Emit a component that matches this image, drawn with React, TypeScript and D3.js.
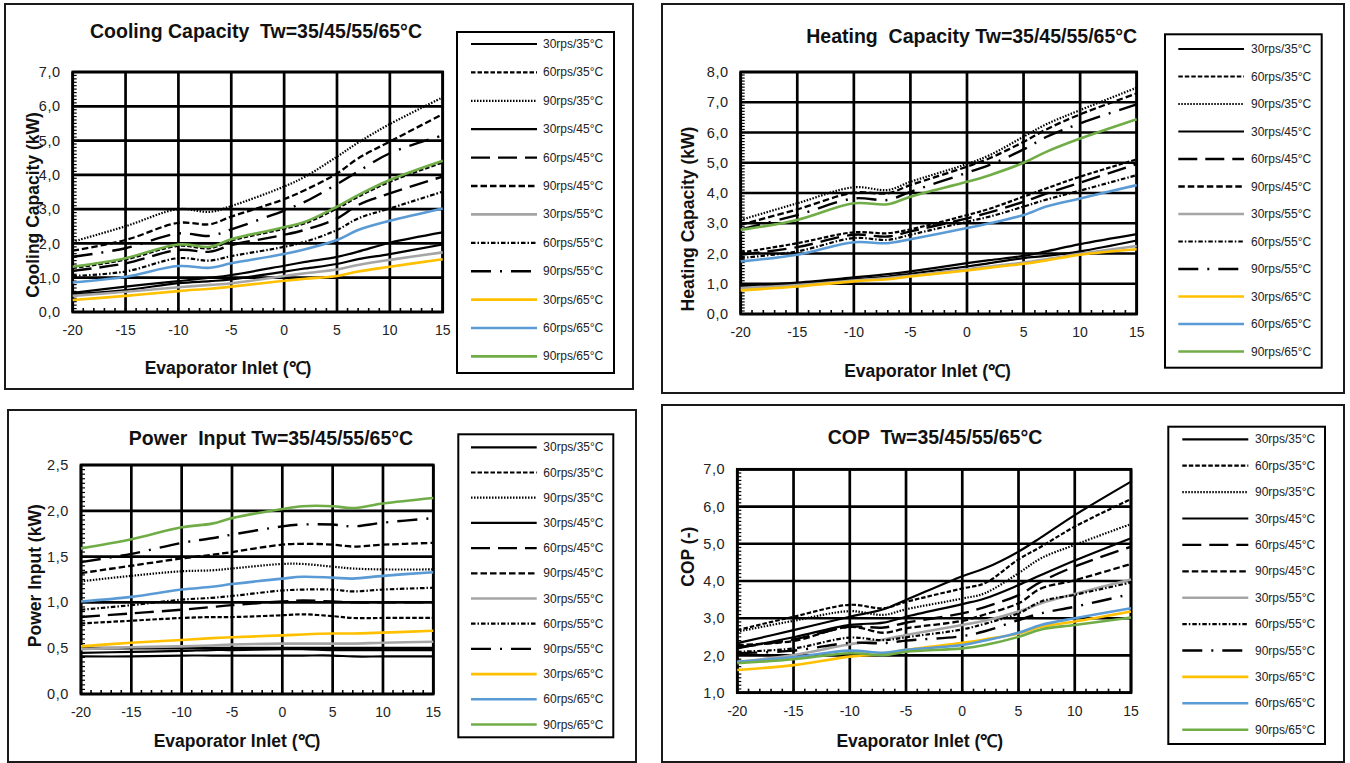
import React from 'react';
import * as d3 from 'd3';

const XS = [-20, -15, -10, -7, -5, 0, 2, 5, 7, 10, 15];
const X_TICKS = [-20, -15, -10, -5, 0, 5, 10, 15];
const SERIES_NAMES = [
  '30rps/35°C', '60rps/35°C', '90rps/35°C',
  '30rps/45°C', '60rps/45°C', '90rps/45°C',
  '30rps/55°C', '60rps/55°C', '90rps/55°C',
  '30rps/65°C', '60rps/65°C', '90rps/65°C',
];

// Cooling capacity (kW), order as SERIES_NAMES
const COOLING = [
  [0.56, 0.74, 0.90, 1.00, 1.08, 1.35, 1.46, 1.61, 1.76, 2.02, 2.32],
  [1.28, 1.53, 1.93, 1.86, 2.08, 2.43, 2.59, 3.02, 3.36, 3.80, 4.36],
  [2.05, 2.50, 3.00, 2.92, 3.09, 3.66, 3.95, 4.53, 4.94, 5.48, 6.26],
  [0.52, 0.64, 0.84, 0.90, 0.95, 1.18, 1.27, 1.40, 1.54, 1.69, 1.97],
  [1.20, 1.42, 1.81, 1.76, 1.95, 2.25, 2.40, 2.73, 3.12, 3.46, 3.95],
  [1.79, 2.10, 2.60, 2.56, 2.78, 3.29, 3.56, 4.04, 4.48, 4.97, 5.77],
  [0.47, 0.59, 0.72, 0.79, 0.84, 1.05, 1.13, 1.24, 1.37, 1.52, 1.74],
  [1.05, 1.18, 1.57, 1.50, 1.63, 1.90, 2.05, 2.39, 2.73, 3.02, 3.51],
  [1.61, 1.86, 2.29, 2.22, 2.41, 2.96, 3.22, 3.73, 4.10, 4.63, 5.15],
  [0.35, 0.47, 0.61, 0.68, 0.74, 0.91, 0.97, 1.05, 1.18, 1.32, 1.54],
  [0.86, 1.03, 1.34, 1.29, 1.42, 1.69, 1.83, 2.10, 2.39, 2.66, 3.02],
  [1.32, 1.57, 1.97, 1.90, 2.12, 2.47, 2.63, 3.07, 3.41, 3.85, 4.41],
];

// Heating capacity (kW)
const HEATING = [
  [0.93, 1.04, 1.21, 1.32, 1.41, 1.68, 1.78, 1.92, 2.07, 2.31, 2.64],
  [2.03, 2.34, 2.70, 2.67, 2.80, 3.27, 3.48, 3.88, 4.15, 4.54, 5.11],
  [3.11, 3.66, 4.19, 4.10, 4.37, 4.96, 5.25, 5.86, 6.27, 6.74, 7.48],
  [0.91, 1.00, 1.15, 1.24, 1.33, 1.57, 1.68, 1.85, 1.92, 2.07, 2.43],
  [1.96, 2.21, 2.62, 2.56, 2.73, 3.16, 3.36, 3.71, 3.98, 4.34, 4.96],
  [2.95, 3.46, 4.01, 3.99, 4.26, 4.87, 5.15, 5.69, 6.10, 6.60, 7.29],
  [0.86, 0.96, 1.11, 1.19, 1.26, 1.48, 1.57, 1.70, 1.81, 1.99, 2.25],
  [1.85, 2.07, 2.51, 2.45, 2.62, 3.05, 3.22, 3.55, 3.78, 4.08, 4.59],
  [2.80, 3.27, 3.82, 3.77, 4.04, 4.67, 4.93, 5.44, 5.85, 6.30, 6.93],
  [0.78, 0.91, 1.08, 1.15, 1.24, 1.44, 1.53, 1.66, 1.77, 1.96, 2.14],
  [1.74, 1.96, 2.37, 2.34, 2.47, 2.84, 3.00, 3.27, 3.55, 3.82, 4.26],
  [2.78, 3.11, 3.66, 3.63, 3.88, 4.37, 4.59, 5.00, 5.36, 5.80, 6.44],
];

// Power input (kW)
const POWER = [
  [0.41, 0.41, 0.42, 0.42, 0.42, 0.42, 0.42, 0.42, 0.41, 0.41, 0.41],
  [0.77, 0.80, 0.83, 0.84, 0.84, 0.86, 0.87, 0.85, 0.83, 0.83, 0.83],
  [1.23, 1.29, 1.34, 1.35, 1.37, 1.42, 1.42, 1.39, 1.37, 1.36, 1.36],
  [0.45, 0.46, 0.47, 0.48, 0.48, 0.49, 0.49, 0.48, 0.48, 0.48, 0.48],
  [0.84, 0.88, 0.92, 0.95, 0.97, 1.01, 1.02, 1.01, 1.00, 1.00, 1.00],
  [1.32, 1.40, 1.48, 1.52, 1.55, 1.63, 1.64, 1.63, 1.61, 1.63, 1.65],
  [0.49, 0.51, 0.52, 0.53, 0.54, 0.55, 0.55, 0.55, 0.55, 0.56, 0.57],
  [0.92, 0.97, 1.03, 1.05, 1.07, 1.13, 1.14, 1.14, 1.12, 1.14, 1.16],
  [1.44, 1.53, 1.65, 1.70, 1.74, 1.83, 1.85, 1.85, 1.83, 1.87, 1.92],
  [0.52, 0.56, 0.59, 0.61, 0.62, 0.64, 0.65, 0.66, 0.66, 0.67, 0.69],
  [1.01, 1.06, 1.14, 1.17, 1.20, 1.26, 1.28, 1.27, 1.26, 1.29, 1.33],
  [1.59, 1.69, 1.82, 1.86, 1.92, 2.02, 2.05, 2.05, 2.03, 2.08, 2.14],
];

// COP (-)
const COP = [
  [2.33, 2.68, 3.04, 3.24, 3.49, 4.13, 4.34, 4.79, 5.17, 5.77, 6.67],
  [2.68, 3.04, 3.36, 3.27, 3.44, 3.80, 3.94, 4.58, 4.92, 5.46, 6.20],
  [2.64, 2.93, 3.19, 3.09, 3.24, 3.53, 3.67, 4.21, 4.61, 4.97, 5.53],
  [2.19, 2.49, 2.82, 2.88, 3.04, 3.38, 3.53, 3.89, 4.16, 4.55, 5.15],
  [2.22, 2.43, 2.77, 2.75, 2.88, 3.13, 3.30, 3.62, 3.98, 4.39, 4.92],
  [2.28, 2.39, 2.77, 2.61, 2.73, 2.93, 3.10, 3.40, 3.80, 4.02, 4.46],
  [1.83, 2.01, 2.30, 2.43, 2.55, 2.82, 2.93, 3.18, 3.40, 3.65, 4.04],
  [2.10, 2.19, 2.48, 2.41, 2.49, 2.70, 2.85, 3.13, 3.45, 3.63, 3.96],
  [2.06, 2.13, 2.34, 2.33, 2.40, 2.52, 2.65, 2.95, 3.13, 3.31, 3.65],
  [1.61, 1.74, 1.97, 2.04, 2.15, 2.34, 2.43, 2.59, 2.77, 2.91, 3.18],
  [1.83, 1.95, 2.13, 2.07, 2.15, 2.28, 2.40, 2.61, 2.82, 3.00, 3.27],
  [1.79, 1.90, 2.06, 2.01, 2.10, 2.19, 2.28, 2.50, 2.70, 2.82, 3.02],
];

const STYLES = [
  { color: '#000', width: 2.2, dash: null },
  { color: '#000', width: 2.2, dash: '4.5,2' },
  { color: '#000', width: 2.2, dash: '1.5,1.5' },
  { color: '#000', width: 2.2, dash: null },
  { color: '#000', width: 2.4, dash: '19,8' },
  { color: '#000', width: 2.3, dash: '6.5,3' },
  { color: '#A5A5A5', width: 2.6, dash: null },
  { color: '#000', width: 2.2, dash: '4.5,2,1.5,2' },
  { color: '#000', width: 2.4, dash: '20,9,2,9' },
  { color: '#FFC000', width: 2.6, dash: null },
  { color: '#5B9BD5', width: 2.6, dash: null },
  { color: '#70AD47', width: 2.6, dash: null },
];

const FONT = '"Liberation Sans", Arial, Helvetica, sans-serif';

type Cfg = {
  outer: { x: number; y: number; w: number; h: number };
  plot: { l: number; r: number; t: number; b: number };
  yDomain: [number, number];
  yStep: number;
  title: string; titleX: number; titleY: number;
  yTitle: string; yTitleX: number; yTitleY: number;
  xTitleX: number; xTitleY: number;
  legend: { x: number; y: number; w: number; h: number; first: number; step: number; s1: number; s2: number; tx: number };
};

const PANELS: { cfg: Cfg; values: number[][] }[] = [
  {
    values: COOLING,
    cfg: {
      outer: { x: 5, y: 4, w: 628, h: 385 },
      plot: { l: 72.7, r: 442.7, t: 72, b: 312 },
      yDomain: [0, 7], yStep: 1,
      title: 'Cooling Capacity  Tw=35/45/55/65°C', titleX: 256, titleY: 38,
      yTitle: 'Cooling Capacity (kW)', yTitleX: 33, yTitleY: 205,
      xTitleX: 228, xTitleY: 373.5,
      legend: { x: 457, y: 32, w: 157, h: 341, first: 44, step: 28.4, s1: 471, s2: 537, tx: 543 },
    },
  },
  {
    values: HEATING,
    cfg: {
      outer: { x: 662, y: 4, w: 682, h: 389 },
      plot: { l: 740.7, r: 1136.7, t: 72, b: 314 },
      yDomain: [0, 8], yStep: 1,
      title: 'Heating  Capacity Tw=35/45/55/65°C', titleX: 971.7, titleY: 43,
      yTitle: 'Heating Capacity (kW)', yTitleX: 688, yTitleY: 219,
      xTitleX: 927.5, xTitleY: 376.5,
      legend: { x: 1165, y: 34.3, w: 156.7, h: 333.4, first: 49, step: 27.5, s1: 1178.3, s2: 1244, tx: 1251 },
    },
  },
  {
    values: POWER,
    cfg: {
      outer: { x: 8, y: 410, w: 628, h: 352 },
      plot: { l: 81, r: 433.3, t: 465, b: 694 },
      yDomain: [0, 2.5], yStep: 0.5,
      title: 'Power  Input Tw=35/45/55/65°C', titleX: 271, titleY: 445,
      yTitle: 'Power Input (kW)', yTitleX: 35, yTitleY: 575.7,
      xTitleX: 237, xTitleY: 747,
      legend: { x: 458.3, y: 434.3, w: 155, h: 303, first: 447.3, step: 25.2, s1: 471, s2: 536.7, tx: 543.3 },
    },
  },
  {
    values: COP,
    cfg: {
      outer: { x: 662, y: 405, w: 682, h: 357 },
      plot: { l: 737.3, r: 1131, t: 469.3, b: 692.7 },
      yDomain: [1, 7], yStep: 1,
      title: 'COP  Tw=35/45/55/65°C', titleX: 935, titleY: 444,
      yTitle: 'COP (-)', yTitleX: 688.3, yTitleY: 556.7,
      xTitleX: 919.8, xTitleY: 747,
      legend: { x: 1168.3, y: 426.7, w: 156.7, h: 317.3, first: 439.3, step: 26.4, s1: 1182.3, s2: 1248.3, tx: 1255 },
    },
  },
];

const fmtY = (v: number) => d3.format('.1f')(v).replace('.', ',');

function Panel({ cfg, values }: { cfg: Cfg; values: number[][] }) {
  const { plot, outer, legend } = cfg;
  const x = d3.scaleLinear().domain([-20, 15]).range([plot.l, plot.r]);
  const y = d3.scaleLinear().domain(cfg.yDomain).range([plot.b, plot.t]);
  const line = d3
    .line<number>()
    .x((_, i) => x(XS[i]))
    .y((d) => y(d))
    .curve(d3.curveCatmullRom.alpha(0.5));
  const yTicks = d3.range(cfg.yDomain[0], cfg.yDomain[1] + 1e-9, cfg.yStep);
  const yMinor = d3.range(cfg.yDomain[0], cfg.yDomain[1] + 1e-9, cfg.yStep / 10);
  const xMinor = d3.range(-20, 15.001, 1);
  const gridW = 2.7;

  return (
    <g>
      <rect x={outer.x} y={outer.y} width={outer.w} height={outer.h} fill="#fff" stroke="#1a1a1a" strokeWidth={2} />
      {/* minor ticks */}
      {xMinor.map((v) => (
        <line key={'xm' + v} x1={x(v)} x2={x(v)} y1={plot.b} y2={plot.b - 4} stroke="#000" strokeWidth={1.6} />
      ))}
      {yMinor.map((v, i) => (
        <line key={'ym' + i} x1={plot.l} x2={plot.l + 4} y1={y(v)} y2={y(v)} stroke="#000" strokeWidth={1.2} />
      ))}
      {/* gridlines */}
      {yTicks.map((v) => (
        <line key={'gy' + v} x1={plot.l} x2={plot.r} y1={y(v)} y2={y(v)} stroke="#000" strokeWidth={gridW} />
      ))}
      {X_TICKS.map((v) => (
        <line key={'gx' + v} x1={x(v)} x2={x(v)} y1={plot.t} y2={plot.b} stroke="#000" strokeWidth={gridW} />
      ))}
      <rect x={plot.l} y={plot.t} width={plot.r - plot.l} height={plot.b - plot.t} fill="none" stroke="#000" strokeWidth={gridW} />
      {/* series */}
      {values.map((vals, i) => (
        <path
          key={'s' + i}
          d={line(vals) || ''}
          fill="none"
          stroke={STYLES[i].color}
          strokeWidth={STYLES[i].width}
          strokeDasharray={STYLES[i].dash || undefined}
        />
      ))}
      {/* tick labels */}
      {X_TICKS.map((v) => (
        <text key={'xl' + v} x={x(v)} y={plot.b + 23} textAnchor="middle" fontSize={14} fontFamily={FONT} fill="#222">
          {String(v)}
        </text>
      ))}
      {yTicks.map((v) => (
        <text key={'yl' + v} x={plot.l - 12} y={y(v)} dy="0.35em" textAnchor="end" fontSize={14.5} letterSpacing={0.6} fontFamily={FONT} fill="#222">
          {fmtY(v)}
        </text>
      ))}
      {/* titles */}
      <text x={cfg.titleX} y={cfg.titleY} textAnchor="middle" fontSize={19.5} fontWeight="bold" fontFamily={FONT} fill="#111" style={{ whiteSpace: 'pre' }}>
        {cfg.title}
      </text>
      <text x={cfg.xTitleX} y={cfg.xTitleY} textAnchor="middle" fontSize={17.5} fontWeight="bold" fontFamily={FONT} fill="#111">
        Evaporator Inlet (℃)
      </text>
      <text
        transform={`translate(${cfg.yTitleX},${cfg.yTitleY}) rotate(-90)`}
        textAnchor="middle"
        dy="0.35em"
        fontSize={17.5}
        fontWeight="bold"
        fontFamily={FONT}
        fill="#111"
      >
        {cfg.yTitle}
      </text>
      {/* legend */}
      <rect x={legend.x} y={legend.y} width={legend.w} height={legend.h} fill="#fff" stroke="#000" strokeWidth={2} />
      {SERIES_NAMES.map((name, i) => {
        const ly = legend.first + i * legend.step;
        return (
          <g key={'lg' + i}>
            <line
              x1={legend.s1}
              x2={legend.s2}
              y1={ly}
              y2={ly}
              stroke={STYLES[i].color}
              strokeWidth={STYLES[i].width}
              strokeDasharray={STYLES[i].dash || undefined}
            />
            <text x={legend.tx} y={ly + 4} fontSize={12} fontFamily={FONT} fill="#222">
              {name}
            </text>
          </g>
        );
      })}
    </g>
  );
}

export default function App() {
  return (
    <svg width={1350} height={763} style={{ position: 'absolute', left: 0, top: 0, background: '#fff' }}>
      <rect x={0} y={0} width={1350} height={763} fill="#fff" />
      {PANELS.map((p, i) => (
        <Panel key={i} cfg={p.cfg} values={p.values} />
      ))}
    </svg>
  );
}
